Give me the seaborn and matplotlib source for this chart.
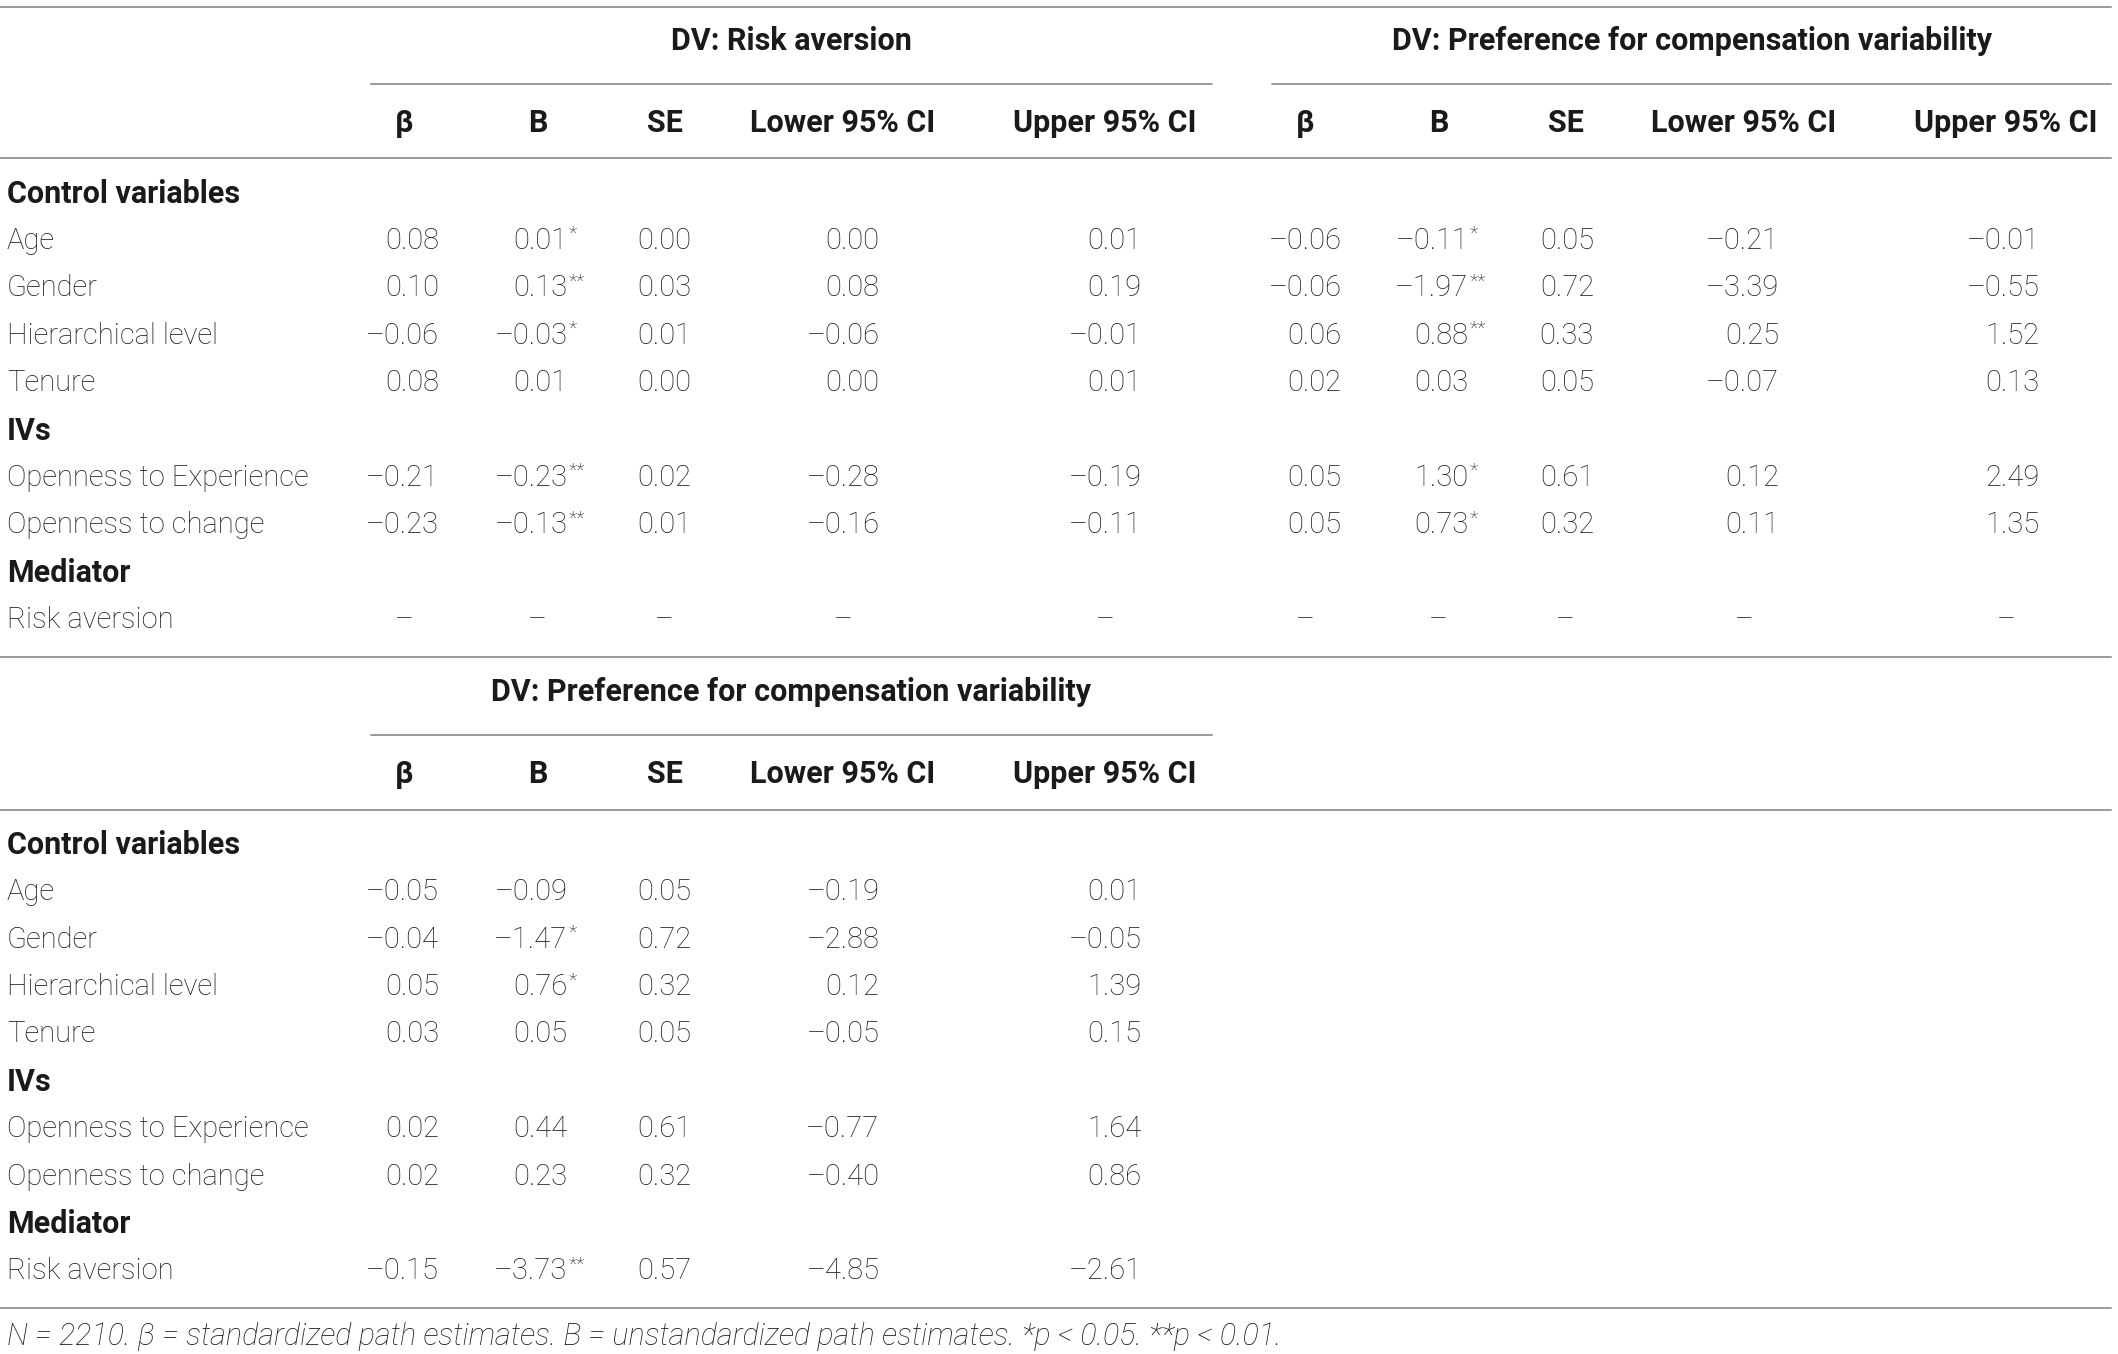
import numpy as np
import pandas as pd
import matplotlib
matplotlib.use('Agg')
import matplotlib.pyplot as plt
import seaborn as sns

# table content
sections = ['Control variables', 'IVs', 'Mediator']
section_rows = [['Age', 'Gender', 'Hierarchical level', 'Tenure'],
                ['Openness to Experience', 'Openness to change'],
                ['Risk aversion']]
col_names = ['β', 'B', 'SE', 'Lower 95% CI', 'Upper 95% CI']

# DV: Risk aversion (top, left)
ra_beta = [0.08, 0.10, -0.06, 0.08, -0.21, -0.23, None]
ra_b = [0.01, 0.13, -0.03, 0.01, -0.23, -0.13, None]
ra_b_stars = ['*', '**', '*', '', '**', '**', '']
ra_se = [0.00, 0.03, 0.01, 0.00, 0.02, 0.01, None]
ra_lo = [0.00, 0.08, -0.06, 0.00, -0.28, -0.16, None]
ra_hi = [0.01, 0.19, -0.01, 0.01, -0.19, -0.11, None]

# DV: Preference for compensation variability, no mediator (top, right)
pv_beta = [-0.06, -0.06, 0.06, 0.02, 0.05, 0.05, None]
pv_b = [-0.11, -1.97, 0.88, 0.03, 1.30, 0.73, None]
pv_b_stars = ['*', '**', '**', '', '*', '*', '']
pv_se = [0.05, 0.72, 0.33, 0.05, 0.61, 0.32, None]
pv_lo = [-0.21, -3.39, 0.25, -0.07, 0.12, 0.11, None]
pv_hi = [-0.01, -0.55, 1.52, 0.13, 2.49, 1.35, None]

# DV: Preference for compensation variability, with mediator (bottom)
pm_beta = [-0.05, -0.04, 0.05, 0.03, 0.02, 0.02, -0.15]
pm_b = [-0.09, -1.47, 0.76, 0.05, 0.44, 0.23, -3.73]
pm_b_stars = ['', '*', '*', '', '', '', '**']
pm_se = [0.05, 0.72, 0.32, 0.05, 0.61, 0.32, 0.57]
pm_lo = [-0.19, -2.88, 0.12, -0.05, -0.77, -0.40, -4.85]
pm_hi = [0.01, -0.05, 1.39, 0.15, 1.64, 0.86, -2.61]

footnote = ('N = 2210. β = standardized path estimates. B = unstandardized path estimates. '
            '*p < 0.05. **p < 0.01.')

sns.set_theme(style='white')
plt.rcParams['font.family'] = ['Roboto', 'DejaVu Sans']

W, H = 1568, 1000
fig = plt.figure(figsize=(21.18, 13.54), dpi=100)
ax = fig.add_axes([0, 0, 1, 1])
ax.set_xlim(0, W)
ax.set_ylim(H, 0)
ax.axis('off')

txt = '#1a1a1a'
rule = '#9a9a9a'
fs = 21
fs_bold = 22
fs_star = 14

# column centres (headers / dashes) and right edges (numbers)
centres = [[299, 398, 492, 624, 818], [966, 1065, 1159, 1291, 1485]]
rights = [[325, 420, 512, 651, 845], [993, 1087, 1180, 1317, 1510]]
spans = [(275, 897), (942, 1563)]


def fmt(v):
    s = f'{abs(v):.2f}'
    return ('–' + s) if v < 0 else s


def draw_block(y0, groups):
    # groups: list of (title, [beta, b, stars, se, lo, hi], col index)
    for title, cols, g in groups:
        x0, x1 = spans[g]
        ax.text((x0 + x1) / 2, y0 + 25, title, ha='center', va='center',
                fontsize=fs_bold, fontweight='bold', color=txt)
        ax.plot([x0, x1], [y0 + 57, y0 + 57], color=rule, lw=1.4)
        for c, name in zip(centres[g], col_names):
            ax.text(c, y0 + 86, name, ha='center', va='center',
                    fontsize=fs_bold, fontweight='bold', color=txt)
    ax.plot([0, 1563], [y0 + 112, y0 + 112], color=rule, lw=1.4)

    y = y0 + 138
    k = 0
    for sec, rows in zip(sections, section_rows):
        ax.text(5, y, sec, ha='left', va='center', fontsize=fs_bold,
                fontweight='bold', color=txt)
        y += 35
        for r in rows:
            ax.text(5, y, r, ha='left', va='center', fontsize=fs,
                    fontweight='light', color=txt)
            for title, cols, g in groups:
                beta, b, stars, se, lo, hi = cols
                vals = [beta[k], b[k], se[k], lo[k], hi[k]]
                for j, v in enumerate(vals):
                    if v is None:
                        ax.text(centres[g][j], y, '–', ha='center', va='center',
                                fontsize=fs, fontweight='light', color=txt)
                        continue
                    ax.text(rights[g][j], y, fmt(v), ha='right', va='center',
                            fontsize=fs, fontweight='light', color=txt)
                    if j == 1 and stars[k]:
                        ax.text(rights[g][j] + 1, y - 5, stars[k], ha='left',
                                va='center', fontsize=fs_star,
                                fontweight='light', color=txt)
            y += 35
            k += 1
    return y


ax.plot([0, 1563], [5, 5], color=rule, lw=1.4)
draw_block(5, [('DV: Risk aversion', [ra_beta, ra_b, ra_b_stars, ra_se, ra_lo, ra_hi], 0),
               ('DV: Preference for compensation variability',
                [pv_beta, pv_b, pv_b_stars, pv_se, pv_lo, pv_hi], 1)])
ax.plot([0, 1563], [485, 485], color=rule, lw=1.4)
draw_block(486, [('DV: Preference for compensation variability',
                  [pm_beta, pm_b, pm_b_stars, pm_se, pm_lo, pm_hi], 0)])
ax.plot([0, 1563], [966, 966], color=rule, lw=1.4)
ax.text(5, 987, footnote, ha='left', va='center', fontsize=22,
        fontstyle='italic', fontweight='light', color=txt)

fig.savefig('out.png', dpi=100)
